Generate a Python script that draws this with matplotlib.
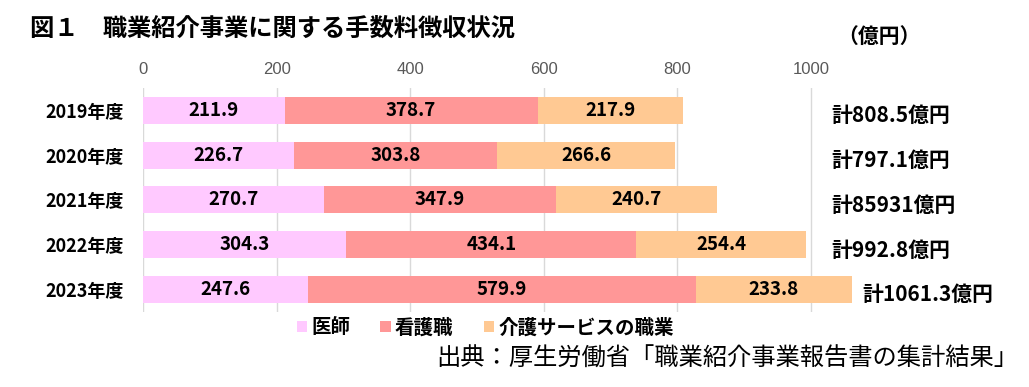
import numpy as np
from matplotlib import pyplot as plt

plt.rcParams['font.family'] = ['Noto Sans CJK JP', 'DejaVu Sans']

years = ['2019年度', '2020年度', '2021年度', '2022年度', '2023年度']
doctor = [211.9, 226.7, 270.7, 304.3, 247.6]
nurse = [378.7, 303.8, 347.9, 434.1, 579.9]
care = [217.9, 266.6, 240.7, 254.4, 233.8]
totals = [808.5, 797.1, 859.3, 992.8, 1061.3]
# 元の図の表記のまま（2021年度は「85931」と誤記されている）
total_labels = ['計808.5億円', '計797.1億円', '計85931億円', '計992.8億円', '計1061.3億円']

series = [('医師', doctor, '#FFC9FF'),
          ('看護職', nurse, '#FF9797'),
          ('介護サービスの職業', care, '#FFC993')]

fig = plt.figure(figsize=(10.29, 3.87), dpi=100)
ax = fig.add_axes([0.139, 0.194, 0.714, 0.579])

y = np.arange(len(years))
left = np.zeros(len(years))
for name, vals, color in series:
    vals = np.array(vals)
    ax.barh(y, vals, left=left, height=0.6, color=color, label=name, zorder=2)
    for yi, l, v in zip(y, left, vals):
        ax.text(l + v / 2, yi, f'{v:.1f}', ha='center', va='center',
                fontsize=13.5, fontweight='bold', color='black', zorder=3)
    left += vals

# 合計ラベル
for yi, t, lab in zip(y, totals, total_labels):
    ax.text(max(t + 15, 1030), yi + 0.12, lab, ha='left', va='center',
            fontsize=15, fontweight='bold', color='black')

ax.set_xlim(0, 1100)
ax.set_ylim(4.5, -0.5)
ax.set_xticks(range(0, 1001, 200))
ax.xaxis.tick_top()
ax.tick_params(axis='x', length=0, labelsize=12, labelcolor='#595959', pad=8)
for lbl in ax.get_xticklabels():
    lbl.set_family('Liberation Sans')
ax.set_yticks(y)
ax.set_yticklabels(years, fontsize=13, fontweight='bold')
ax.tick_params(axis='y', length=0, pad=14)
ax.grid(axis='x', color='#D9D9D9', linewidth=1, zorder=0)
for s in ax.spines.values():
    s.set_visible(False)

ax.legend(loc='center left', bbox_to_anchor=(0.196, -0.07), ncol=3, frameon=False,
          borderpad=0, handlelength=0.55, handleheight=0.55, handletextpad=0.2,
          columnspacing=1.55, prop={'size': 14, 'weight': 'bold'})

fig.text(0.029, 0.925, '図１　職業紹介事業に関する手数料徴収状況', fontsize=17.5,
         fontweight='bold', va='center')
fig.text(0.814, 0.905, '（億円）', fontsize=15, fontweight='bold', va='center')
fig.text(0.99, 0.072, '出典：厚生労働省「職業紹介事業報告書の集計結果」', fontsize=17.5,
         ha='right', va='center')

fig.savefig('out.png', dpi=100)
